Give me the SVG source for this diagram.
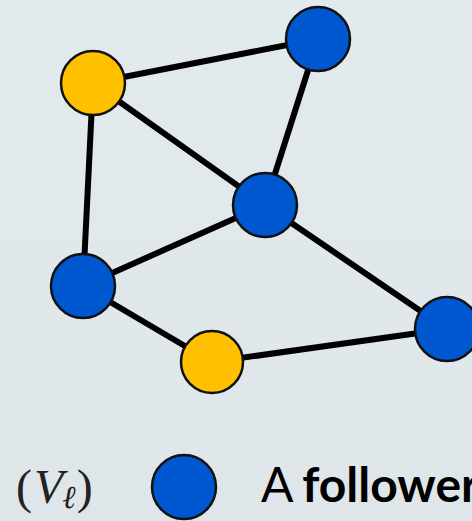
<svg xmlns="http://www.w3.org/2000/svg" width="472" height="521" viewBox="0 0 472 521">
  <defs>
    <linearGradient id="bg" x1="0" y1="0" x2="0" y2="1">
      <stop offset="0" stop-color="#e3eaee"/>
      <stop offset="1" stop-color="#dfe6ea"/>
    </linearGradient>
    <style>
      .edge { stroke: #000; stroke-width: 6; stroke-linecap: round; fill: none; }
      .node { stroke: #111; stroke-width: 2.5; }
      .leader { fill: #ffc000; }
      .follower { fill: #0058d0; }
      .math { font-family: "Liberation Serif", "DejaVu Serif", serif; font-size: 48px; fill: #222; }
      .label { font-family: Lato, "Liberation Sans", sans-serif; font-size: 48px; fill: #000; }
    </style>
  </defs>
  <rect width="472" height="521" fill="url(#bg)"/>

  <g id="edges">
    <line class="edge" x1="93" y1="83" x2="318" y2="39"/>
    <line class="edge" x1="93" y1="83" x2="265" y2="205"/>
    <line class="edge" x1="93" y1="83" x2="83" y2="286"/>
    <line class="edge" x1="318" y1="39" x2="265" y2="205"/>
    <line class="edge" x1="265" y1="205" x2="83" y2="286"/>
    <line class="edge" x1="265" y1="205" x2="447" y2="329"/>
    <line class="edge" x1="83" y1="286" x2="212" y2="362"/>
    <line class="edge" x1="212" y1="362" x2="447" y2="329"/>
  </g>

  <g id="n-leader-top"><circle class="node leader" cx="93" cy="83" r="32"/></g>
  <g id="n-follower-topright"><circle class="node follower" cx="318" cy="39" r="32"/></g>
  <g id="n-follower-center"><circle class="node follower" cx="265" cy="205" r="32"/></g>
  <g id="n-follower-left"><circle class="node follower" cx="83" cy="286" r="32"/></g>
  <g id="n-leader-bottom"><circle class="node leader" cx="212" cy="362" r="31"/></g>
  <g id="n-follower-right"><circle class="node follower" cx="447" cy="329" r="32"/></g>

  <g id="legend">
    <text class="math" x="16" y="503">(<tspan font-style="italic" dx="2">V</tspan><tspan font-style="italic" font-size="32" dx="-1" dy="5">ℓ</tspan><tspan dy="-5" dx="1">)</tspan></text>
    <circle class="node follower" cx="184" cy="487" r="32"/>
    <text class="label" x="261" y="502">A <tspan font-weight="bold" dx="-2">follower</tspan></text>
  </g>
</svg>
